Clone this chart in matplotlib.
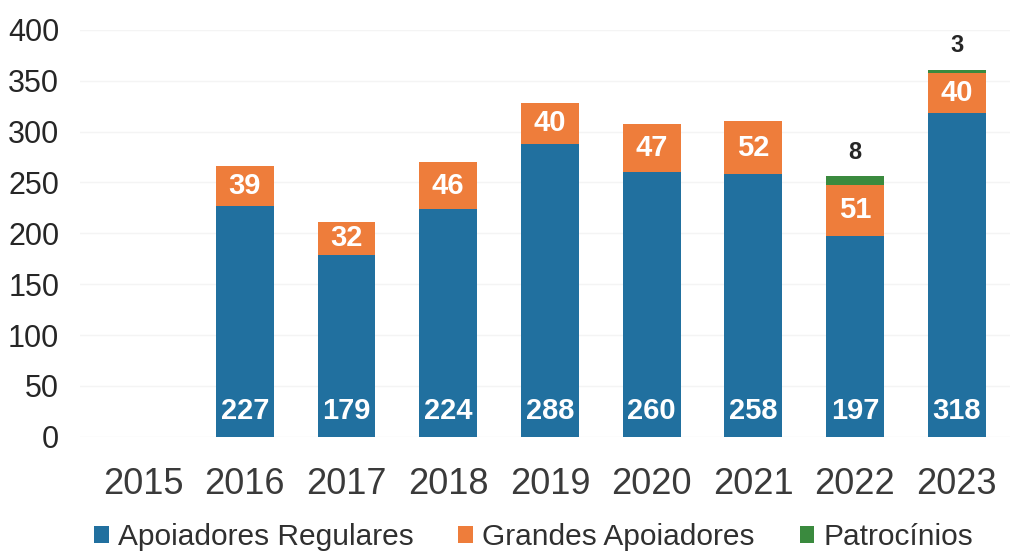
import matplotlib.pyplot as plt
import numpy as np

plt.rcParams['font.family'] = ['Liberation Sans', 'DejaVu Sans']

years = ['2015', '2016', '2017', '2018', '2019', '2020', '2021', '2022', '2023']
regulares = [0, 227, 179, 224, 288, 260, 258, 197, 318]
grandes = [0, 39, 32, 46, 40, 47, 52, 51, 40]
patrocinios = [0, 0, 0, 0, 0, 0, 0, 8, 3]

c_blue = '#21709F'
c_orange = '#EE7D3B'
c_green = '#3A8A3E'

x = np.arange(len(years))
reg = np.array(regulares)
gra = np.array(grandes)
pat = np.array(patrocinios)

fig = plt.figure(figsize=(10.26, 5.53), dpi=100)
ax = fig.add_axes([0.078, 0.21, 0.906, 0.736])

w = 0.57
b1 = ax.bar(x, reg, w, color=c_blue, label='Apoiadores Regulares', zorder=3)
b2 = ax.bar(x, gra, w, bottom=reg, color=c_orange, label='Grandes Apoiadores', zorder=3)
b3 = ax.bar(x, pat, w, bottom=reg + gra, color=c_green, label='Patrocínios', zorder=3)

for i in range(len(years)):
    if reg[i] > 0:
        ax.text(x[i], 25, str(reg[i]), ha='center', va='center', color='white',
                fontsize=21, fontweight='bold', zorder=4)
    if gra[i] > 0:
        ax.text(x[i], reg[i] + gra[i] / 2, str(gra[i]), ha='center', va='center',
                color='white', fontsize=21, fontweight='bold', zorder=4)
    if pat[i] > 0:
        ax.annotate(str(pat[i]), (x[i], reg[i] + gra[i] + pat[i]), xytext=(0, 9),
                    textcoords='offset points', ha='center', va='bottom',
                    color='#262626', fontsize=17, fontweight='bold')

ax.set_ylim(0, 400)
ax.set_xlim(-0.62, 8.52)
ax.set_yticks(range(0, 401, 50))
ax.set_xticks(x)
ax.set_xticklabels(years)
ax.tick_params(axis='y', labelsize=22, length=0, pad=15, labelcolor='#262626')
ax.tick_params(axis='x', labelsize=26, length=0, pad=22, labelcolor='#3a3a3a')
ax.grid(axis='y', color='#F4F4F4', lw=1, zorder=0)
for s in ax.spines.values():
    s.set_visible(False)

fig.legend(handles=[b1, b2, b3], loc='lower center', bbox_to_anchor=(0.52, -0.045),
           ncol=3, frameon=False, fontsize=21.5, handlelength=0.5, handleheight=0.5,
           handletextpad=0.3, columnspacing=1.5, labelcolor='#303030')

fig.savefig('out.png', dpi=100)
